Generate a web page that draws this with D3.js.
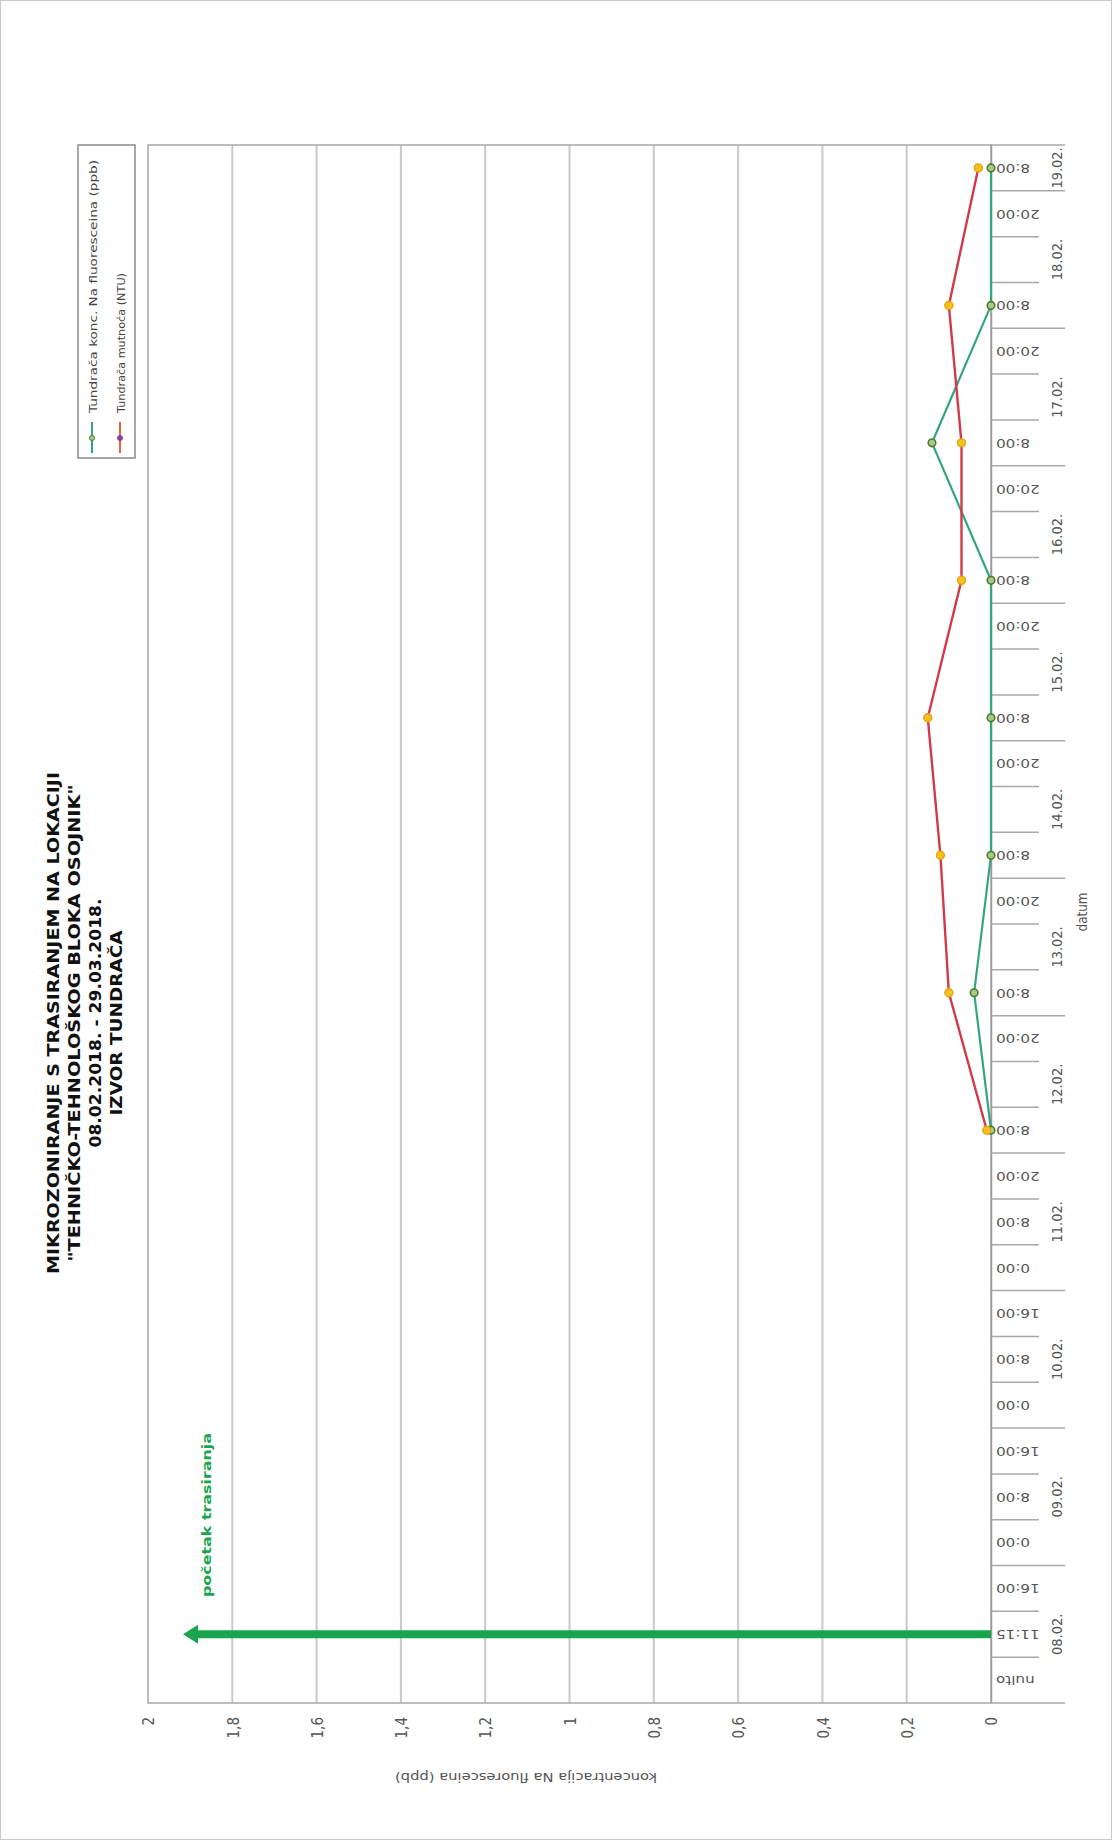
<!DOCTYPE html>
<html><head><meta charset="utf-8">
<script src="https://cdn.jsdelivr.net/npm/d3@7/dist/d3.min.js"></script>
<style>html,body{margin:0;padding:0;background:#fff}svg{display:block}</style>
</head><body>
<svg id="c" width="1112" height="1840"></svg>
<script>
// ---------- data ----------
const titleLines = [
  "MIKROZONIRANJE S TRASIRANJEM NA LOKACIJI",
  "\"TEHNIČKO-TEHNOLOŠKOG BLOKA OSOJNIK\"",
  "08.02.2018. - 29.03.2018.",
  "IZVOR TUNDRAČA"
];
const dates = ["08.02.","09.02.","10.02.","11.02.","12.02.","13.02.","14.02.","15.02.","16.02.","17.02.","18.02.","19.02."];
const slotsPerDate = [3,3,3,3,3,3,3,3,3,3,3,1];
const timeLabels = [
  "nulto","11:15","16:00",
  "0:00","8:00","16:00",
  "0:00","8:00","16:00",
  "0:00","8:00","20:00",
  "8:00","","20:00",
  "8:00","","20:00",
  "8:00","","20:00",
  "8:00","","20:00",
  "8:00","","20:00",
  "8:00","","20:00",
  "8:00","","20:00",
  "8:00"
];
const seriesNames = ["Tundrača konc. Na fluoresceina (ppb)", "Tundrača mutnoća (NTU)"];
const fluoresceinValues = [
  null,null,null, null,null,null, null,null,null, null,null,null,
  0,null,null, 0.04,null,null, 0,null,null, 0,null,null,
  0,null,null, 0.14,null,null, 0,null,null, 0
];
const turbidityValues = [
  null,null,null, null,null,null, null,null,null, null,null,null,
  0.01,null,null, 0.10,null,null, 0.12,null,null, 0.15,null,null,
  0.07,null,null, 0.07,null,null, 0.10,null,null, 0.03
];
const valueTicks = [0,0.2,0.4,0.6,0.8,1,1.2,1.4,1.6,1.8,2];
const valueTickLabels = ["0","0,2","0,4","0,6","0,8","1","1,2","1,4","1,6","1,8","2"];
const startIndex = 1;          // "11:15" on 08.02. - start of tracing
const startArrowValue = 1.917; // arrow reaches this level
const startLabel = "početak trasiranja";
const valueAxisTitle = "koncentracija Na fluoresceina (ppb)";
const categoryAxisTitle = "datum";

// ---------- setup ----------
const FONT = "DejaVu Sans, Verdana, sans-serif";
const svg = d3.select("#c");
svg.append("rect").attr("x",0.5).attr("y",0.5).attr("width",1111).attr("height",1839)
  .attr("fill","#fff").attr("stroke","#c8c8c8").attr("stroke-width",1);

// chart drawn in its own (landscape) frame, then turned by -90 degrees
const g = svg.append("g").attr("transform","translate(0,1840) rotate(-90)");

const x = d3.scaleBand().domain(d3.range(timeLabels.length)).range([137,1695]).padding(0);
const y = d3.scaleLinear().domain([0,2]).range([991,148]);
const bw = x.bandwidth();
const cx = i => x(i) + bw/2;

// grid
g.append("g").selectAll("line").data(valueTicks.filter(v => v>0 && v<2)).join("line")
  .attr("x1",137).attr("x2",1695).attr("y1",d=>y(d)).attr("y2",d=>y(d))
  .attr("stroke","#c9c9c9").attr("stroke-width",2);

// frame
g.append("rect").attr("x",137).attr("y",y(2)).attr("width",1695-137).attr("height",y(0)-y(2))
  .attr("fill","none").attr("stroke","#a8a8a8").attr("stroke-width",1.5);

// category axis
const xAxis = g.append("g").attr("transform",`translate(0,${y(0)})`)
  .call(d3.axisBottom(x).tickSize(0).tickFormat(i => timeLabels[i]));
xAxis.select(".domain").attr("stroke","#9a9a9a").attr("stroke-width",1.5);
xAxis.selectAll("text")
  .attr("x",0).attr("y",0).attr("dy","0.36em")
  .attr("transform","translate(0,5) scale(1,1.32) rotate(-90)")
  .attr("text-anchor","end")
  .attr("font-family",FONT).attr("font-size",11.5).attr("fill","#555");

// boundary ticks (long at day changes)
const dayStarts = [0];
slotsPerDate.forEach((n,i)=>dayStarts.push(dayStarts[i]+n));
const bounds = d3.range(timeLabels.length+1);
g.append("g").selectAll("line").data(bounds).join("line")
  .attr("x1",i => x.range()[0] + i*x.step()).attr("x2",i => x.range()[0] + i*x.step())
  .attr("y1",y(0))
  .attr("y2",i => dayStarts.includes(i) ? y(0)+74 : y(0)+48)
  .attr("stroke","#a8a8a8").attr("stroke-width",1.5);

// date labels
g.append("g").selectAll("text").data(dates).join("text")
  .attr("transform",(d,i)=>{
    const a = x(dayStarts[i]), b = x(dayStarts[i+1]-1)+bw;
    return `translate(${(a+b)/2},${y(0)+71}) scale(1,1.1)`;
  })
  .attr("text-anchor","middle")
  .attr("font-family",FONT).attr("font-size",13).attr("fill","#555")
  .text(d=>d);

// value axis
const yAxis = g.append("g").attr("transform","translate(137,0)")
  .call(d3.axisLeft(y).tickValues(valueTicks).tickFormat((d,i)=>valueTickLabels[i]).tickSize(0));
yAxis.select(".domain").remove();
yAxis.selectAll("text")
  .attr("x",0).attr("dy","0.36em")
  .attr("transform","translate(-14,0) scale(1,1.18)")
  .attr("text-anchor","end")
  .attr("font-family",FONT).attr("font-size",13.5).attr("fill","#555");

// axis titles
g.append("text").attr("transform","translate(67,526) rotate(-90)")
  .attr("text-anchor","middle").attr("font-family",FONT).attr("font-size",12)
  .attr("fill","#555").attr("textLength",262).attr("lengthAdjust","spacingAndGlyphs")
  .text(valueAxisTitle);
g.append("text").attr("transform",`translate(928,1087) scale(1,1.1)`)
  .attr("text-anchor","middle").attr("font-family",FONT).attr("font-size",12)
  .attr("fill","#555").text(categoryAxisTitle);

// title
const titleLen = [502,477,249,185];
const titleBase = [59,80,101,122];
g.append("g").selectAll("text").data(titleLines).join("text")
  .attr("x",817).attr("y",(d,i)=>titleBase[i])
  .attr("text-anchor","middle").attr("font-family",FONT).attr("font-weight","bold")
  .attr("font-size",16).attr("fill","#111")
  .attr("textLength",(d,i)=>titleLen[i]).attr("lengthAdjust","spacingAndGlyphs")
  .text(d=>d);

// series
const pts = vals => vals.map((v,i)=>v==null?null:[cx(i),y(v)]).filter(p=>p);
const line = d3.line();
const gp = pts(fluoresceinValues), rp = pts(turbidityValues);
g.append("path").attr("d",line(gp)).attr("fill","none").attr("stroke","#33a67c").attr("stroke-width",2.2);
g.append("path").attr("d",line(rp)).attr("fill","none").attr("stroke","#cf3b4a").attr("stroke-width",2.4);
g.append("g").selectAll("circle").data(gp).join("circle")
  .attr("cx",d=>d[0]).attr("cy",d=>d[1]).attr("r",3.8)
  .attr("fill","#a9c98a").attr("stroke","#4d7c30").attr("stroke-width",1.6);
g.append("g").selectAll("circle").data(rp).join("circle")
  .attr("cx",d=>d[0]).attr("cy",d=>d[1]).attr("r",4)
  .attr("fill","#f3c318").attr("stroke","#e2a11a").attr("stroke-width",1.4);

// start arrow
const ax = cx(startIndex), tipY = y(startArrowValue);
g.append("line").attr("x1",ax).attr("x2",ax).attr("y1",y(0)).attr("y2",tipY+12)
  .attr("stroke","#17a54d").attr("stroke-width",8);
g.append("path").attr("d",`M${ax},${tipY} L${ax-9.5},${tipY+15} L${ax+9.5},${tipY+15} Z`)
  .attr("fill","#17a54d");
g.append("text").attr("x",243).attr("y",211)
  .attr("font-family",FONT).attr("font-weight","bold").attr("font-size",11.5)
  .attr("fill","#1aa650").attr("textLength",164).attr("lengthAdjust","spacingAndGlyphs")
  .text(startLabel);

// legend
const lg = g.append("g");
lg.append("rect").attr("x",1382).attr("y",78).attr("width",1695-1382).attr("height",57)
  .attr("fill","#fff").attr("stroke","#8a8a8a").attr("stroke-width",1.5);
const legCols = [["#33a67c","#a9c98a","#4d7c30"],["#e8603c","#8a3fa0","#8a3fa0"]];
const legY = [92,120], legLen = [253,140];
seriesNames.forEach((name,i)=>{
  lg.append("line").attr("x1",1387).attr("x2",1418).attr("y1",legY[i]).attr("y2",legY[i])
    .attr("stroke",legCols[i][0]).attr("stroke-width",2);
  lg.append("circle").attr("cx",1402).attr("cy",legY[i]).attr("r",2.5)
    .attr("fill",legCols[i][1]).attr("stroke",legCols[i][2]).attr("stroke-width",1);
  lg.append("text").attr("x",1427).attr("y",legY[i]+4.5)
    .attr("font-family",FONT).attr("font-size",10.5).attr("fill","#444")
    .attr("textLength",legLen[i]).attr("lengthAdjust","spacingAndGlyphs")
    .text(name);
});
</script>
</body></html>
